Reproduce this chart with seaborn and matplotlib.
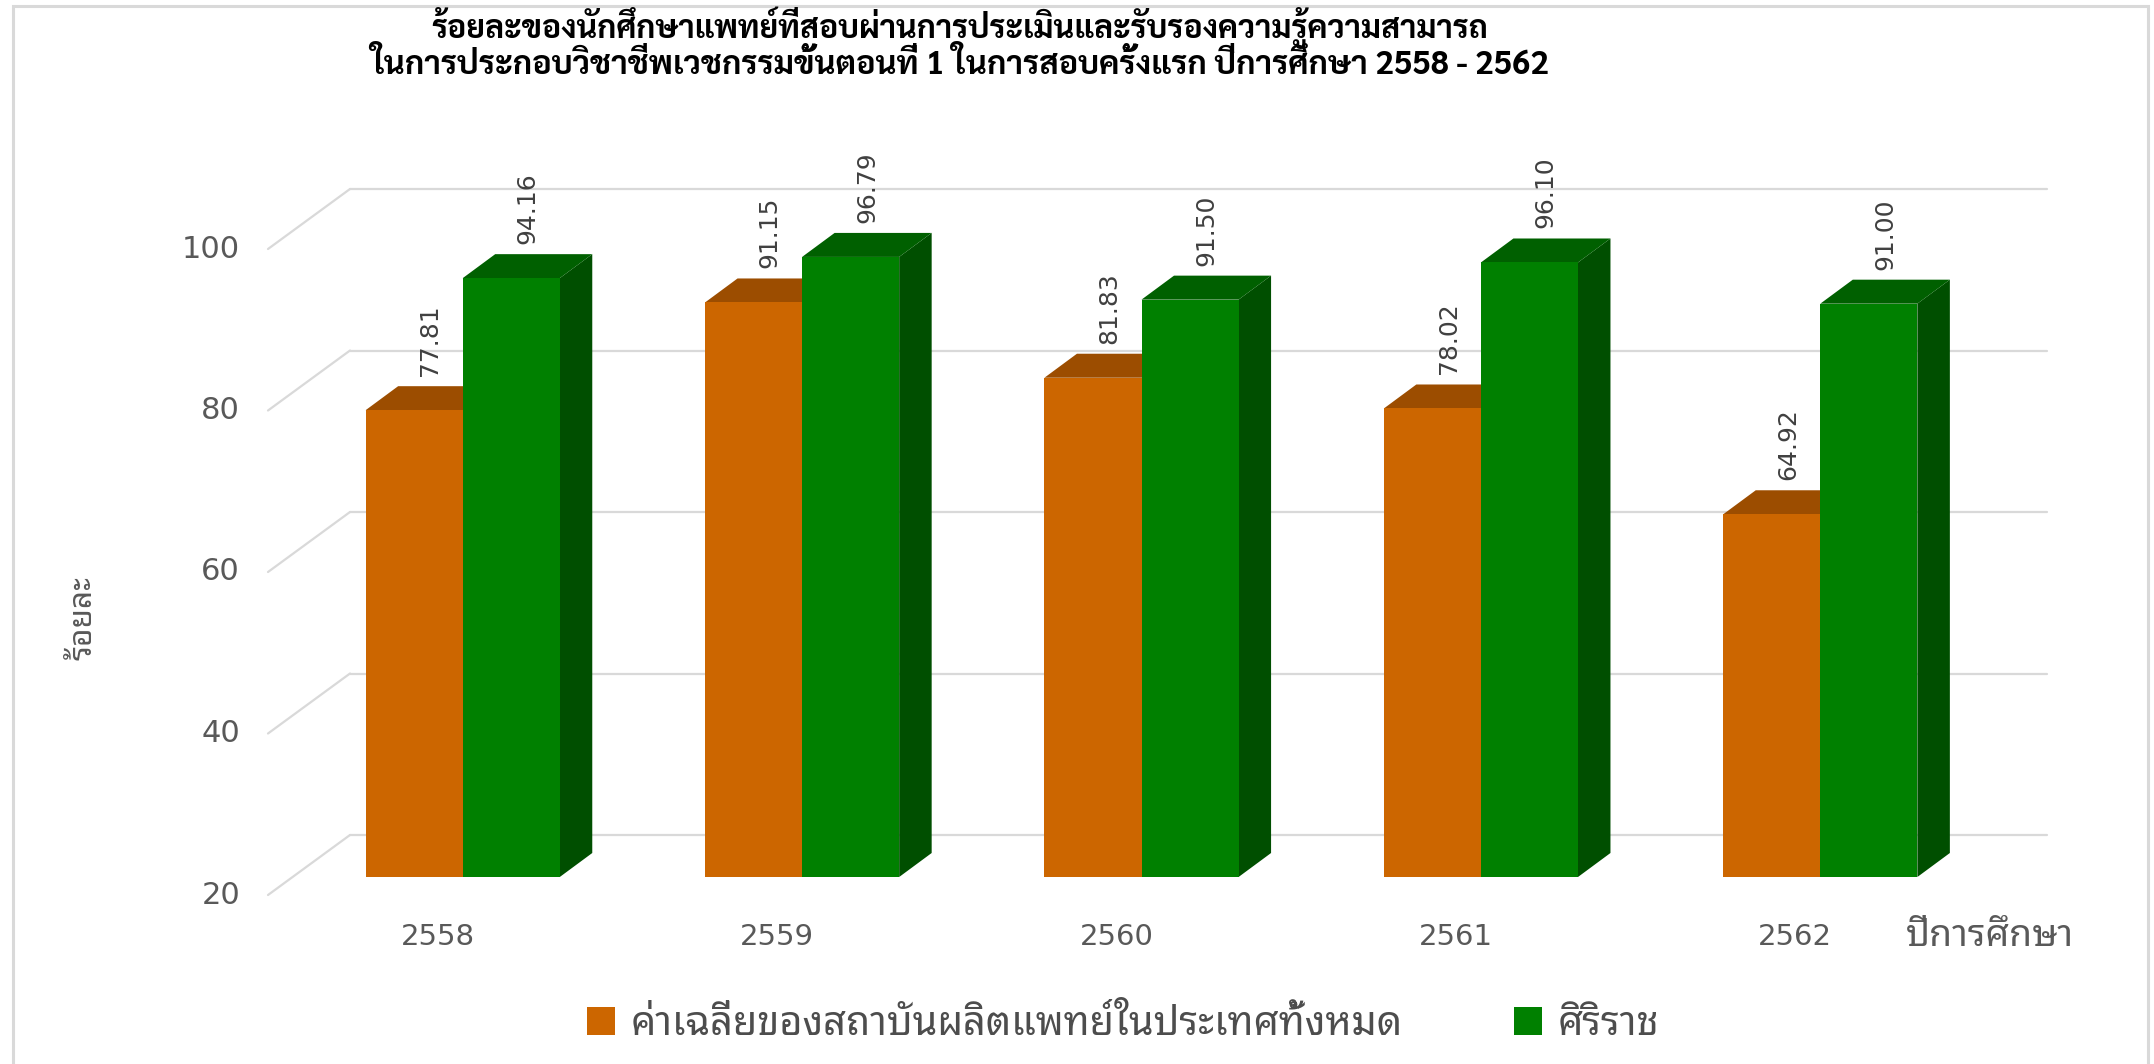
import numpy as np
import pandas as pd
import matplotlib
matplotlib.use("Agg")
import matplotlib.pyplot as plt
import seaborn as sns
from matplotlib.patches import Polygon, Rectangle, Patch
from matplotlib.lines import Line2D
from matplotlib.transforms import offset_copy, IdentityTransform

# ---------------- data ----------------
years = ["2558", "2559", "2560", "2561", "2562"]
series_names = ["ค่าเฉลี่ยของสถาบันผลิตแพทย์ในประเทศทั้งหมด", "ศิริราช"]
national_avg = [77.81, 91.15, 81.83, 78.02, 64.92]
siriraj = [94.16, 96.79, 91.50, 96.10, 91.00]
y_ticks = [20, 40, 60, 80, 100]
title_lines = ["ร้อยละของนักศึกษาแพทย์ที่สอบผ่านการประเมินและรับรองความรู้ความสามารถ",
               "ในการประกอบวิชาชีพเวชกรรมขั้นตอนที่ 1 ในการสอบครั้งแรก ปีการศึกษา 2558 - 2562"]
y_label = "ร้อยละ"
x_label = "ปีการศึกษา"

# ---------------- style ----------------
front_colors = ["#CC6600", "#008000"]
top_colors = ["#9C4D00", "#006000"]
side_colors = ["#7A3D00", "#004F00"]
grid_color = "#D9D9D9"
text_gray = "#595959"

sns.set_theme(style="white")
THAI = ["Noto Sans Thai Looped", "DejaVu Sans"]
THAI_BOLD = ["Sarabun", "DejaVu Sans"]
NUM = ["DejaVu Sans"]
plt.rcParams["font.family"] = THAI

df = pd.DataFrame({
    "year": years * 2,
    "series": [series_names[0]] * len(years) + [series_names[1]] * len(years),
    "value": national_avg + siriraj,
})

W, H = 2154, 1064
fig = plt.figure(figsize=(W / 100, H / 100), dpi=100)
fig.patch.set_facecolor("white")
ax = fig.add_axes([293 / W, (H - 877) / H, 1697 / W, 646 / H])

sns.barplot(data=df, x="year", y="value", hue="series", hue_order=series_names,
            palette=front_colors, width=0.572, gap=0, saturation=1,
            errorbar=None, legend=False, linewidth=0, zorder=3, ax=ax)
ax.set_xlim(-0.5, len(years) - 0.5)
ax.set_ylim(y_ticks[0], y_ticks[-1])
ax.set_axis_off()

# 3D geometry offsets (pixels)
DX, DY = 32.5, 24     # bar depth
BX, BY = 57, 42       # back wall relative to bar front plane
FX, FY = -25, -18     # front edge relative to bar front plane

ymin = y_ticks[0]
# back wall gridlines and side-wall diagonals
back_tr = offset_copy(ax.transData, fig=fig, x=BX, y=BY, units="dots")
for v in y_ticks:
    ax.plot([-0.5, len(years) - 0.5], [v, v], transform=back_tr, color=grid_color,
            lw=1.6, zorder=0, clip_on=False)
    p = ax.transData.transform((-0.5, v))
    ax.add_line(Line2D([p[0] + FX, p[0] + BX], [p[1] + FY, p[1] + BY],
                       transform=IdentityTransform(), color=grid_color, lw=1.6,
                       zorder=0, clip_on=False))
    ax.text(-0.5, v, f"{v}", transform=offset_copy(ax.transData, fig=fig, x=FX - 28, y=FY, units="dots"),
            ha="right", va="center", fontsize=22, color=text_gray, family=NUM)

# 3D faces and value labels
label_tr = offset_copy(ax.transData, fig=fig, x=DX / 2, y=DY + 10, units="dots")
for i, cont in enumerate(ax.containers):
    for bar in cont:
        x0 = bar.get_x()
        x1 = x0 + bar.get_width()
        h = bar.get_height()
        (px0, ph) = ax.transData.transform((x0, h))
        (px1, pb) = ax.transData.transform((x1, ymin))
        top = [(px0, ph), (px1, ph), (px1 + DX, ph + DY), (px0 + DX, ph + DY)]
        side = [(px1, pb), (px1, ph), (px1 + DX, ph + DY), (px1 + DX, pb + DY)]
        ax.add_patch(Polygon(side, closed=True, transform=IdentityTransform(),
                             fc=side_colors[i], ec="none", zorder=2.5, clip_on=False))
        ax.add_patch(Polygon(top, closed=True, transform=IdentityTransform(),
                             fc=top_colors[i], ec="none", zorder=2.5, clip_on=False))
        ax.text((x0 + x1) / 2, h, f"{h:.2f}", transform=label_tr, rotation=90,
                ha="center", va="bottom", fontsize=18, color="#404040", family=NUM,
                clip_on=False)

# x tick labels on the front edge
xt_tr = offset_copy(ax.transData, fig=fig, x=FX, y=FY - 42, units="dots")
for i, yr in enumerate(years):
    ax.text(i, ymin, yr, transform=xt_tr, ha="center", va="center",
            fontsize=21, color=text_gray, family=NUM)

renderer = fig.canvas.get_renderer()


def fit(t, target, dim="w"):
    for _ in range(3):
        bb = t.get_window_extent(renderer=renderer)
        cur = bb.width if dim == "w" else bb.height
        t.set_fontsize(t.get_fontsize() * target / cur)


xl = ax.text(len(years) - 0.5, ymin, x_label,
             transform=offset_copy(ax.transData, fig=fig, x=0, y=FY - 42, units="dots"),
             ha="center", va="center", fontsize=20, color=text_gray)
fit(xl, 168)

yl = fig.text(84 / W, 1 - 618 / H, y_label, rotation=90, ha="center", va="center",
              fontsize=20, color=text_gray)
fit(yl, 84, "h")

t1 = fig.text(960 / W, 1 - 28 / H, title_lines[0], ha="center", va="center",
              fontsize=20, fontweight="bold", color="black", family=THAI_BOLD)
t2 = fig.text(960 / W, 1 - 66 / H, title_lines[1], ha="center", va="center",
              fontsize=20, fontweight="bold", color="black", family=THAI_BOLD)
fit(t1, 1058)
fit(t2, 1179)

# legend
probe = fig.text(0, 0, series_names[0], fontsize=20)
fit(probe, 772)
leg_fs = probe.get_fontsize()
probe.remove()
handles = [Patch(facecolor=c, edgecolor="none") for c in front_colors]
fig.legend(handles, series_names, loc="center", bbox_to_anchor=(1123 / W, 1 - 1025 / H),
           ncol=2, frameon=False, fontsize=leg_fs, handlelength=0.7, handleheight=0.7,
           handletextpad=0.4, columnspacing=2.8, labelcolor="#4D4D4D")

# outer chart border
fig.add_artist(Rectangle((12.5 / W, -0.05), (2147.5 - 12.5) / W, 1.05 - 5.5 / H,
                         transform=fig.transFigure, fill=False, ec=grid_color, lw=2.2))

fig.savefig("out.png", dpi=100, facecolor="white")
